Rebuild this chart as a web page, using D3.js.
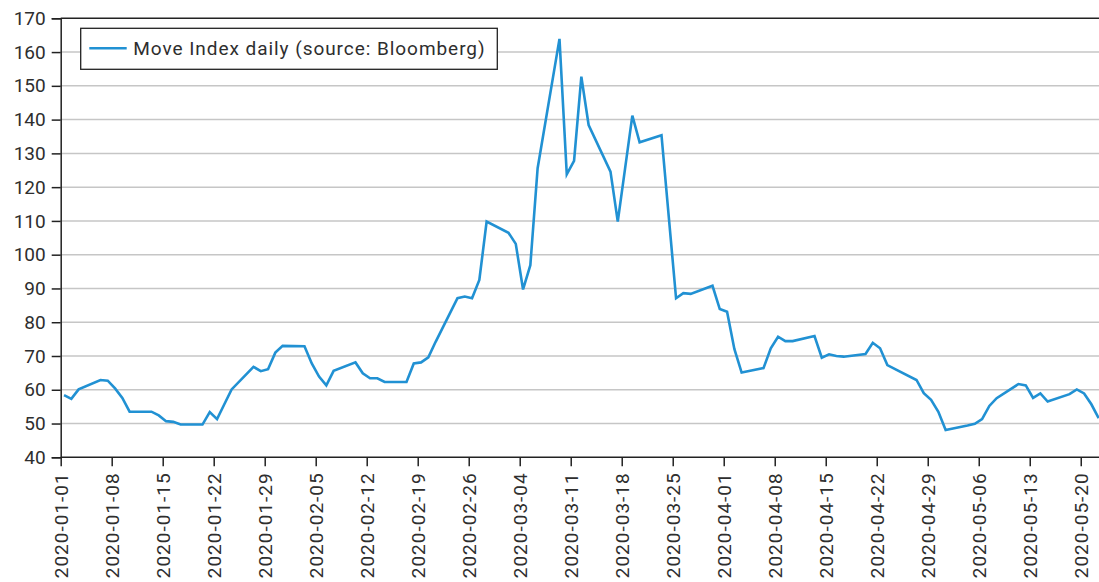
<!DOCTYPE html>
<html>
<head>
<meta charset="utf-8">
<script src="https://cdn.jsdelivr.net/npm/d3@7"></script>
<style>
  html, body { margin: 0; padding: 0; background: #fff; }
  svg { display: block; font-family: Roboto, "DejaVu Sans", sans-serif; }
</style>
</head>
<body>
<svg id="chart" width="1099" height="582"></svg>
<script>
// ---- Data ----
const dates = [
  "2020-01-01","2020-01-02","2020-01-03","2020-01-06","2020-01-07","2020-01-08","2020-01-09","2020-01-10",
  "2020-01-13","2020-01-14","2020-01-15","2020-01-16","2020-01-17","2020-01-20","2020-01-21","2020-01-22",
  "2020-01-23","2020-01-24","2020-01-27","2020-01-28","2020-01-29","2020-01-30","2020-01-31",
  "2020-02-03","2020-02-04","2020-02-05","2020-02-06","2020-02-07","2020-02-10","2020-02-11","2020-02-12",
  "2020-02-13","2020-02-14","2020-02-17","2020-02-18","2020-02-19","2020-02-20","2020-02-21",
  "2020-02-24","2020-02-25","2020-02-26","2020-02-27","2020-02-28","2020-03-02","2020-03-03","2020-03-04",
  "2020-03-05","2020-03-06","2020-03-09","2020-03-10","2020-03-11","2020-03-12","2020-03-13",
  "2020-03-16","2020-03-17","2020-03-18","2020-03-19","2020-03-20","2020-03-23","2020-03-24","2020-03-25",
  "2020-03-26","2020-03-27","2020-03-30","2020-03-31","2020-04-01","2020-04-02","2020-04-03",
  "2020-04-06","2020-04-07","2020-04-08","2020-04-09","2020-04-10","2020-04-13","2020-04-14","2020-04-15",
  "2020-04-16","2020-04-17","2020-04-20","2020-04-21","2020-04-22","2020-04-23","2020-04-24",
  "2020-04-27","2020-04-28","2020-04-29","2020-04-30","2020-05-01","2020-05-04","2020-05-05","2020-05-06",
  "2020-05-07","2020-05-08","2020-05-11","2020-05-12","2020-05-13","2020-05-14","2020-05-15",
  "2020-05-18","2020-05-19","2020-05-20","2020-05-21","2020-05-22"
];
const moveIndex = [
  58.4, 57.3, 60.1, 62.9, 62.7, 60.4, 57.6, 53.5,
  53.5, 52.4, 50.7, 50.5, 49.7, 49.7, 53.4, 51.3,
  55.7, 60.1, 66.8, 65.5, 66.1, 71.0, 73.0,
  72.9, 67.8, 63.9, 61.3, 65.6, 68.1, 64.9, 63.4,
  63.4, 62.3, 62.3, 67.8, 68.1, 69.6, 74.2,
  87.1, 87.6, 87.1, 92.5, 109.8, 106.5, 103.2, 89.7,
  96.9, 125.6, 163.9, 123.8, 127.8, 152.7, 138.4,
  124.6, 109.8, 125.5, 141.2, 133.3, 135.4, 111.2, 87.1,
  88.6, 88.4, 90.8, 83.9, 83.1, 72.1, 65.1,
  66.4, 72.3, 75.7, 74.4, 74.4, 75.9, 69.5, 70.5,
  70.0, 69.8, 70.6, 73.9, 72.3, 67.3, 66.2,
  62.9, 59.0, 57.0, 53.5, 48.1, 49.4, 49.9, 51.3,
  55.2, 57.5, 61.7, 61.3, 57.6, 58.9, 56.5,
  58.7, 60.1, 58.9, 55.7, 51.6
];
const yTicks = [40, 50, 60, 70, 80, 90, 100, 110, 120, 130, 140, 150, 160, 170];
const xTickDates = [
  "2020-01-01","2020-01-08","2020-01-15","2020-01-22","2020-01-29","2020-02-05","2020-02-12",
  "2020-02-19","2020-02-26","2020-03-04","2020-03-11","2020-03-18","2020-03-25","2020-04-01",
  "2020-04-08","2020-04-15","2020-04-22","2020-04-29","2020-05-06","2020-05-13","2020-05-20"
];
const seriesLabel = "Move Index daily (source: Bloomberg)";

(function () {
  const parse = d3.utcParse("%Y-%m-%d");
  const fmt = d3.utcFormat("%Y-%m-%d");
  const data = dates.map((d, i) => ({ date: parse(d), value: moveIndex[i] }));

  const svg = d3.select("#chart");
  const plotLeft = 60.7, plotTop = 18.3, plotBottom = 457.3, plotRight = 1099;
  const x = d3.scaleUtc()
    .domain([parse("2020-01-01"), parse("2020-05-23")])
    .range([plotLeft, plotLeft + 143 * 7.286]);
  const y = d3.scaleLinear().domain([40, 170]).range([plotBottom, plotTop]);

  const fontSize = 19;
  const textColor = "#2e2e2e";
  const axisColor = "#222";

  // gridlines
  svg.append("g")
    .selectAll("line")
    .data(yTicks.filter(t => t > 40 && t < 170))
    .join("line")
    .attr("x1", plotLeft).attr("x2", plotRight)
    .attr("y1", d => y(d)).attr("y2", d => y(d))
    .attr("stroke", "#c6c6c6").attr("stroke-width", 1.5);

  // top border at 170
  svg.append("line")
    .attr("x1", plotLeft).attr("x2", plotRight)
    .attr("y1", y(170)).attr("y2", y(170))
    .attr("stroke", axisColor).attr("stroke-width", 1.5);

  // y axis
  const yAxis = svg.append("g")
    .attr("transform", `translate(${plotLeft},0)`)
    .call(d3.axisLeft(y).tickValues(yTicks).tickSize(9).tickPadding(6).tickFormat(d3.format("d")));
  yAxis.select(".domain").attr("stroke", axisColor).attr("stroke-width", 1.5);
  yAxis.selectAll(".tick line").attr("stroke", axisColor).attr("stroke-width", 1.5);
  yAxis.selectAll("text").attr("font-size", fontSize).attr("fill", textColor).attr("font-family", "Roboto");

  // x axis
  const xAxis = svg.append("g")
    .attr("transform", `translate(0,${plotBottom})`)
    .call(d3.axisBottom(x).tickValues(xTickDates.map(parse)).tickSize(9).tickFormat(fmt));
  xAxis.select(".domain").attr("stroke", axisColor).attr("stroke-width", 1.5)
    .attr("d", `M${plotLeft},0H${plotRight}`);
  xAxis.selectAll(".tick line").attr("stroke", axisColor).attr("stroke-width", 1.5);
  xAxis.selectAll("text")
    .attr("font-size", fontSize).attr("fill", textColor).attr("font-family", "Roboto")
    .attr("letter-spacing", "1px")
    .attr("text-anchor", "end")
    .attr("dy", "0.35em")
    .attr("x", 0).attr("y", 0)
    .attr("transform", "translate(0,15) rotate(-90)");

  // line
  const line = d3.line()
    .x(d => x(d3.utcHour.offset(d.date, 11)))
    .y(d => y(d.value));
  svg.append("path")
    .datum(data)
    .attr("d", line)
    .attr("fill", "none")
    .attr("stroke", "#2191d3")
    .attr("stroke-width", 2.6)
    .attr("stroke-linejoin", "miter")
    .attr("stroke-miterlimit", 4);

  // legend
  const lg = svg.append("g");
  lg.append("rect")
    .attr("x", 80.7).attr("y", 28.3).attr("width", 416.6).attr("height", 41)
    .attr("fill", "#fff").attr("stroke", axisColor).attr("stroke-width", 1.3);
  lg.append("line")
    .attr("x1", 89.3).attr("x2", 126.7).attr("y1", 48.3).attr("y2", 48.3)
    .attr("stroke", "#2191d3").attr("stroke-width", 2.6);
  lg.append("text")
    .attr("x", 133.3).attr("y", 48.3).attr("dy", "0.35em")
    .attr("font-size", fontSize).attr("fill", textColor).attr("font-family", "Roboto")
    .attr("letter-spacing", "0.95px")
    .text(seriesLabel);
})();
</script>
</body>
</html>
